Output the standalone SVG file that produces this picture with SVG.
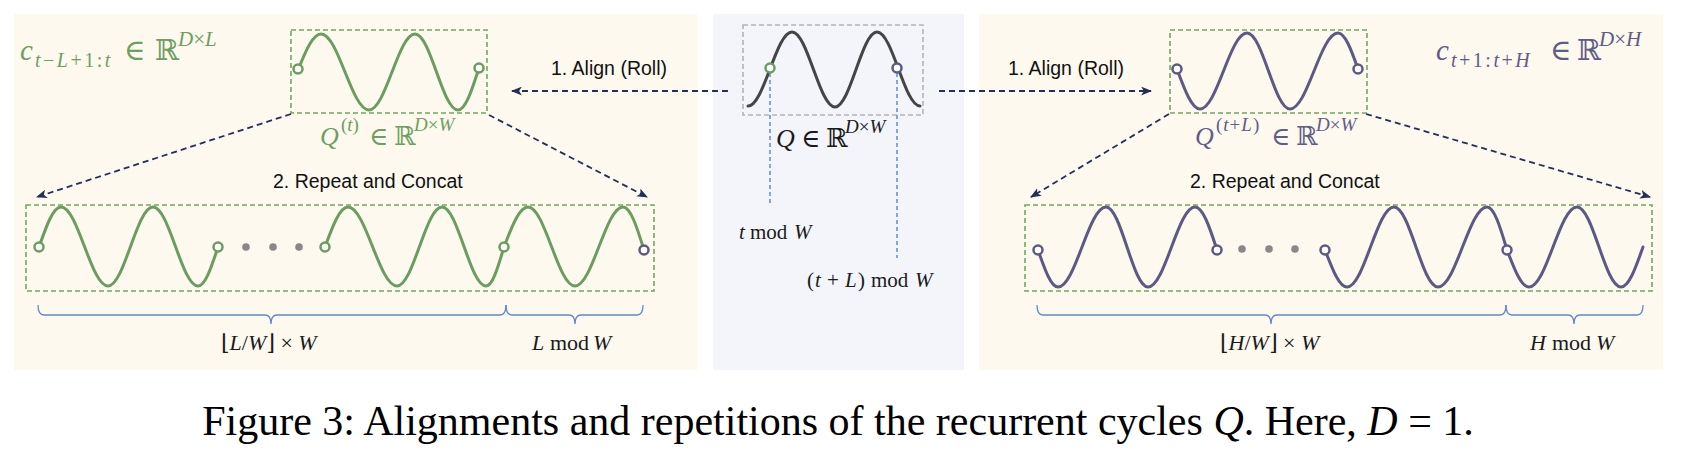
<svg xmlns="http://www.w3.org/2000/svg" width="1704" height="452" viewBox="0 0 1704 452">
<defs>
<style>
.bgc{fill:#fdf9ee}
.bgm{fill:#f4f5fa}
.gbox{fill:none;stroke:#6fa862;stroke-width:1.6;stroke-dasharray:5 3}
.mbox{fill:none;stroke:#b4b4b4;stroke-width:1.6;stroke-dasharray:5 3}
.wg{fill:none;stroke:#6a9d5f;stroke-width:3;stroke-linecap:round}
.wp{fill:none;stroke:#5c5a84;stroke-width:3;stroke-linecap:round}
.wd{fill:none;stroke:#454545;stroke-width:3;stroke-linecap:round}
.cg{fill:#fff;stroke:#6a9d5f;stroke-width:2.5}
.cp{fill:#fff;stroke:#5c5a84;stroke-width:2.5}
.dot{fill:#888}
.arr{fill:none;stroke:#22305a;stroke-width:1.8;stroke-dasharray:6 4;marker-end:url(#ah)}
.vl{fill:none;stroke:#5b8ad6;stroke-width:1.5;stroke-dasharray:4 3}
.br{fill:none;stroke:#6288cc;stroke-width:1.3}
.lab{font-family:"Liberation Sans",Arial,sans-serif;font-size:19.5px;fill:#111}
.m{font-family:"Liberation Serif","DejaVu Serif",serif}
.i{font-style:italic}
.tg{fill:#6e9e62}
.tp{fill:#5f5d88}
.tk{fill:#1a1a1a}
.cap{font-family:"Liberation Serif","Times New Roman",serif;font-size:42px;fill:#000}
</style>
<marker id="ah" viewBox="0 0 10 8" refX="9" refY="4" markerWidth="11" markerHeight="9" orient="auto" markerUnits="userSpaceOnUse"><path d="M0,0 L10,4 L0,8 L2.5,4 z" fill="#22305a"/></marker>
</defs>

<g id="panels">
<rect class="bgc" x="14" y="14" width="683" height="356"/>
<rect class="bgm" x="713" y="14" width="251" height="356"/>
<rect class="bgc" x="979" y="14" width="684" height="356"/>
</g>

<g id="node-q">
<rect class="mbox" x="743" y="25" width="180" height="90"/>
<path class="wd" d="M748,106 C764,106 776,32 792,32 C807.6,32 819.4,107 835,107 C850.3,107 861.7,32 877,32 C892.7,32 904.3,106 920,106"/>
<line class="vl" x1="770" y1="73" x2="770" y2="203"/>
<line class="vl" x1="897" y1="73" x2="897" y2="258"/>
<circle class="cg" cx="770" cy="68" r="4.5"/>
<circle class="cp" cx="897" cy="68" r="4.5"/>
<text class="m tk" font-size="26"><tspan x="776" y="147" class="i">Q</tspan><tspan x="801" y="147">∈</tspan><tspan x="826" y="147">ℝ</tspan><tspan x="845" y="133" font-size="19"><tspan class="i">D</tspan>×<tspan class="i">W</tspan></tspan></text>
<text class="m tk" font-size="21"><tspan x="739" y="239" class="i">t</tspan><tspan x="750" y="239">mod</tspan><tspan x="794" y="239" class="i">W</tspan></text>
<text class="m tk" font-size="21"><tspan x="807" y="287">(</tspan><tspan x="815" y="287" class="i">t</tspan><tspan x="827" y="287">+</tspan><tspan x="845" y="287" class="i">L</tspan><tspan x="858" y="287">)</tspan><tspan x="871" y="287">mod</tspan><tspan x="915" y="287" class="i">W</tspan></text>
</g>

<g id="node-qt">
<rect class="gbox" x="291" y="30" width="196" height="83"/>
<path class="wg" d="M298,70 C306,50 313,34 321,34 C338.5,34 351.5,110 369,110 C385.7,110 398.3,34 415,34 C430.7,34 442.3,110 458,110 C465.4,110 471.6,91 479,68"/>
<circle class="cg" cx="298" cy="69" r="4.5"/>
<circle class="cg" cx="479" cy="68" r="4.5"/>
<text class="m tg" font-size="26"><tspan x="320" y="145" class="i">Q</tspan><tspan x="341" y="131" font-size="19">(<tspan class="i">t</tspan>)</tspan><tspan x="369" y="145">∈</tspan><tspan x="394" y="145">ℝ</tspan><tspan x="414" y="131" font-size="19"><tspan class="i">D</tspan>×<tspan class="i">W</tspan></tspan></text>
</g>

<g id="node-ql">
<rect class="gbox" x="1170" y="30" width="197" height="83"/>
<path class="wp" d="M1177,69 C1185,91 1192,109 1200,109 C1217.1,109 1229.9,33 1247,33 C1262.7,33 1274.3,109 1290,109 C1307.5,109 1320.5,33 1338,33 C1345,33 1351,49 1358,69"/>
<circle class="cp" cx="1177" cy="69" r="4.5"/>
<circle class="cp" cx="1358" cy="69" r="4.5"/>
<text class="m tp" font-size="26"><tspan x="1195" y="145" class="i">Q</tspan><tspan x="1216" y="131" font-size="19" letter-spacing="1">(<tspan class="i">t</tspan>+<tspan class="i">L</tspan>)</tspan><tspan x="1271" y="145">∈</tspan><tspan x="1296" y="145">ℝ</tspan><tspan x="1316" y="131" font-size="19"><tspan class="i">D</tspan>×<tspan class="i">W</tspan></tspan></text>
</g>

<g id="node-lookback">
<rect class="gbox" x="26" y="205" width="628" height="86"/>
<path class="wg" d="M39,247 C46.7,225 53.3,207 61,207 C78.1,207 90.9,286 108,286 C124.4,286 136.6,207 153,207 C169.4,207 181.6,286 198,286 C205,286 211,268.5 218,247"/>
<path class="wg" d="M325,247 C333,225 340,207 348,207 C365.8,207 379.2,286 397,286 C413.4,286 425.6,207 442,207 C458,207 470,286 486,286 C492.3,286 497.7,268.5 504,247 C512.4,225 519.6,207 528,207 C545.1,207 557.9,286 575,286 C592.5,286 605.5,207 623,207 C630.4,207 636.6,226 644,250"/>
<circle class="cg" cx="39" cy="247" r="4.5"/>
<circle class="cg" cx="218" cy="247" r="4.5"/>
<circle class="dot" cx="246" cy="247" r="3.8"/>
<circle class="dot" cx="273" cy="247" r="3.8"/>
<circle class="dot" cx="299" cy="247" r="3.8"/>
<circle class="cg" cx="325" cy="247" r="4.5"/>
<circle class="cg" cx="504" cy="247" r="4.5"/>
<circle class="cp" cx="644" cy="250" r="4.5"/>
<text class="m tg" font-size="29"><tspan x="20" y="60" class="i">c</tspan><tspan x="35" y="67" font-size="20" letter-spacing="2.5"><tspan class="i">t</tspan>−<tspan class="i">L</tspan>+1:<tspan class="i">t</tspan></tspan><tspan x="124" y="60">∈</tspan><tspan x="155" y="60">ℝ</tspan><tspan x="178" y="46" font-size="21"><tspan class="i">D</tspan>×<tspan class="i">L</tspan></tspan></text>
</g>

<g id="node-horizon">
<rect class="gbox" x="1025" y="205" width="627" height="86"/>
<path class="wp" d="M1038,250 C1045,270 1051,287 1058,287 C1075.5,287 1088.5,207 1106,207 C1121.3,207 1132.7,287 1148,287 C1165.1,287 1177.9,207 1195,207 C1202.7,207 1209.3,226 1217,250"/>
<path class="wp" d="M1325,250 C1332.7,270 1339.3,287 1347,287 C1364.1,287 1376.9,207 1394,207 C1410,207 1422,287 1438,287 C1455.8,287 1469.2,207 1487,207 C1494,207 1500,226 1507,250 C1514.7,270 1521.3,287 1529,287 C1546.5,287 1559.5,207 1577,207 C1593,207 1605,287 1621,287 C1628.7,287 1635.3,269 1643,247"/>
<circle class="cp" cx="1038" cy="250" r="4.5"/>
<circle class="cp" cx="1217" cy="250" r="4.5"/>
<circle class="dot" cx="1242" cy="249" r="3.8"/>
<circle class="dot" cx="1269" cy="249" r="3.8"/>
<circle class="dot" cx="1295" cy="249" r="3.8"/>
<circle class="cp" cx="1325" cy="250" r="4.5"/>
<circle class="cp" cx="1507" cy="250" r="4.5"/>
<text class="m tp" font-size="29"><tspan x="1436" y="60" class="i">c</tspan><tspan x="1451" y="67" font-size="20" letter-spacing="2.5"><tspan class="i">t</tspan>+1:<tspan class="i">t</tspan>+<tspan class="i">H</tspan></tspan><tspan x="1550" y="60">∈</tspan><tspan x="1577" y="60">ℝ</tspan><tspan x="1599" y="46" font-size="21"><tspan class="i">D</tspan>×<tspan class="i">H</tspan></tspan></text>
</g>

<g id="connectors">
<line class="arr" x1="728" y1="91" x2="512" y2="91"/>
<line class="arr" x1="939" y1="91" x2="1151" y2="91"/>
<line class="arr" x1="291" y1="114" x2="37" y2="197"/>
<line class="arr" x1="489" y1="115" x2="647" y2="197"/>
<line class="arr" x1="1169" y1="114" x2="1031" y2="197"/>
<line class="arr" x1="1366" y1="114" x2="1650" y2="197"/>
</g>

<g id="labels">
<text class="lab" x="551" y="75">1. Align (Roll)</text>
<text class="lab" x="1008" y="75">1. Align (Roll)</text>
<text class="lab" x="273" y="188">2. Repeat and Concat</text>
<text class="lab" x="1190" y="188">2. Repeat and Concat</text>
</g>

<g id="braces">
<path class="br" d="M38,305 Q38,315 44,315 L265,315 Q271,315 271,324 Q271,315 277,315 L500,315 Q506,315 506,305"/>
<path class="br" d="M506,305 Q506,315 512,315 L569,315 Q575,315 575,324 Q575,315 581,315 L637,315 Q643,315 643,305"/>
<path class="br" d="M1037,305 Q1037,315 1043,315 L1265,315 Q1271,315 1271,324 Q1271,315 1277,315 L1500,315 Q1506,315 1506,305"/>
<path class="br" d="M1506,305 Q1506,315 1512,315 L1568,315 Q1574,315 1574,324 Q1574,315 1580,315 L1637,315 Q1643,315 1643,305"/>
<text class="m tk" font-size="22" x="221" y="350">⌊<tspan class="i">L</tspan>/<tspan class="i">W</tspan>⌋ × <tspan class="i">W</tspan></text>
<text class="m tk" font-size="22"><tspan x="532" y="350" class="i">L</tspan><tspan x="550" y="350">mod</tspan><tspan x="593" y="350" class="i">W</tspan></text>
<text class="m tk" font-size="22" x="1220" y="350">⌊<tspan class="i">H</tspan>/<tspan class="i">W</tspan>⌋ × <tspan class="i">W</tspan></text>
<text class="m tk" font-size="22"><tspan x="1530" y="350" class="i">H</tspan><tspan x="1552" y="350">mod</tspan><tspan x="1596" y="350" class="i">W</tspan></text>
</g>

<g id="caption">
<text class="cap" x="838" y="435" text-anchor="middle">Figure 3: Alignments and repetitions of the recurrent cycles <tspan class="i">Q</tspan>. Here, <tspan class="i">D</tspan> = 1.</text>
</g>
</svg>
